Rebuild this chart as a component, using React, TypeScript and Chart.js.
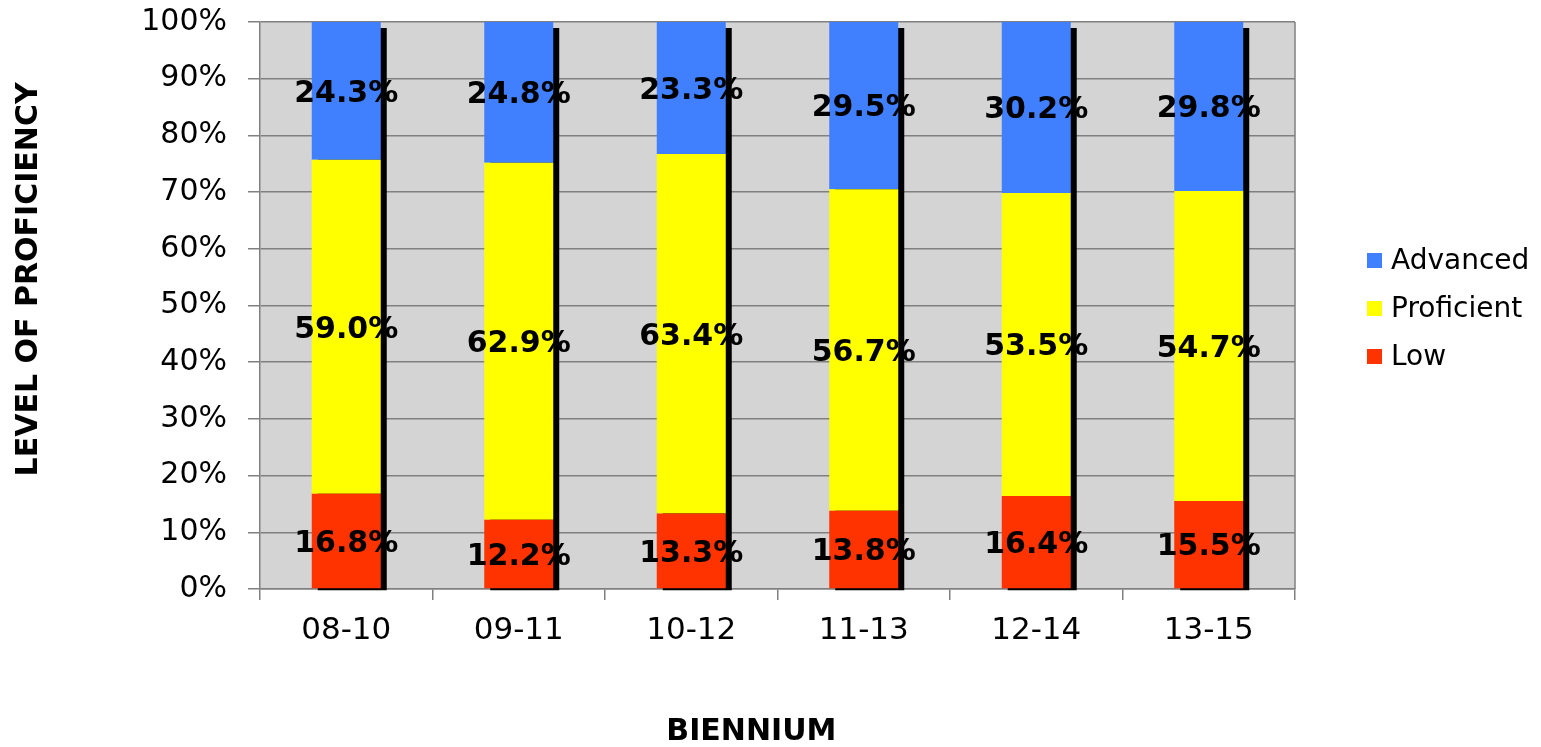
import React, { useEffect, useRef } from 'react';
import { Chart, registerables } from 'chart.js';

Chart.register(...registerables);

const categories = ['08-10', '09-11', '10-12', '11-13', '12-14', '13-15'];
const lowValues = [16.8, 12.2, 13.3, 13.8, 16.4, 15.5];
const proficientValues = [59.0, 62.9, 63.4, 56.7, 53.5, 54.7];
const advancedValues = [24.3, 24.8, 23.3, 29.5, 30.2, 29.8];
const seriesNames = ['Low', 'Proficient', 'Advanced'];
const seriesColors = ['#FF3300', '#FFFF00', '#4080FF'];
const xTitle = 'BIENNIUM';
const yTitle = 'LEVEL OF PROFICIENCY';

const FONT = "'DejaVu Sans', Verdana, sans-serif";

const bgPlugin = {
  id: 'plotBg',
  beforeDraw(chart: any) {
    const { ctx, chartArea: a } = chart;
    ctx.save();
    ctx.fillStyle = '#D4D4D4';
    ctx.fillRect(a.left, a.top, a.right - a.left, a.bottom - a.top);
    ctx.restore();
  },
  beforeDatasetsDraw(chart: any) {
    const { ctx, chartArea: a } = chart;
    ctx.save();
    ctx.strokeStyle = '#808080';
    ctx.lineWidth = 1.5;
    ctx.beginPath();
    ctx.moveTo(a.right, a.top);
    ctx.lineTo(a.right, a.bottom);
    ctx.stroke();
    const topMeta = chart.getDatasetMeta(2);
    const botMeta = chart.getDatasetMeta(0);
    ctx.fillStyle = '#000000';
    topMeta.data.forEach((el: any, i: number) => {
      const { x, y, width } = el.getProps(['x', 'y', 'width'], true);
      const base = botMeta.data[i].getProps(['base'], true).base;
      ctx.fillRect(x - width / 2 + 6, y + 6, width, base + 2 - (y + 6));
    });
    ctx.restore();
  },
};

const labelPlugin = {
  id: 'segLabels',
  afterDatasetsDraw(chart: any) {
    const { ctx } = chart;
    ctx.save();
    ctx.font = `bold 30px ${FONT}`;
    ctx.fillStyle = '#000000';
    ctx.textAlign = 'center';
    ctx.textBaseline = 'middle';
    chart.data.datasets.forEach((ds: any, di: number) => {
      const meta = chart.getDatasetMeta(di);
      meta.data.forEach((el: any, i: number) => {
        const { x, y, base } = el.getProps(['x', 'y', 'base'], true);
        ctx.fillText(ds.rawValues[i].toFixed(1) + '%', x, (y + base) / 2 + 3);
      });
    });
    ctx.restore();
  },
};

const legendPlugin = {
  id: 'sideLegend',
  afterDraw(chart: any) {
    const { ctx, chartArea: a } = chart;
    const ds = chart.data.datasets;
    const order = ds.map((_: any, i: number) => i).reverse();
    const spacing = 48;
    const mid = (a.top + a.bottom) / 2 + 3;
    const startY = mid - ((order.length - 1) * spacing) / 2;
    const x = a.right + 72;
    ctx.save();
    ctx.font = `28px ${FONT}`;
    ctx.textAlign = 'left';
    ctx.textBaseline = 'middle';
    order.forEach((di: number, k: number) => {
      const cy = startY + k * spacing;
      ctx.fillStyle = ds[di].backgroundColor;
      ctx.fillRect(x, cy - 7.5, 15, 15);
      ctx.fillStyle = '#000000';
      ctx.fillText(ds[di].label, x + 24, cy + 1);
    });
    ctx.restore();
  },
};

export default function App() {
  const canvasRef = useRef<HTMLCanvasElement | null>(null);

  useEffect(() => {
    if (!canvasRef.current) return;
    const seriesRaw = [lowValues, proficientValues, advancedValues];
    const totals = categories.map((_, i) => seriesRaw.reduce((s, arr) => s + arr[i], 0));
    const datasets = seriesRaw.map((arr, si) => ({
      label: seriesNames[si],
      data: arr.map((v, i) => (v / totals[i]) * 100),
      rawValues: arr,
      backgroundColor: seriesColors[si],
      borderWidth: 0,
      barPercentage: 0.4,
      categoryPercentage: 1.0,
    }));

    const chart = new Chart(canvasRef.current, {
      type: 'bar',
      data: { labels: categories, datasets: datasets as any },
      plugins: [bgPlugin, labelPlugin, legendPlugin],
      options: {
        animation: false,
        responsive: true,
        maintainAspectRatio: false,
        layout: { padding: { top: 22, right: 246, left: 0, bottom: 0 } },
        plugins: {
          legend: { display: false },
          tooltip: { enabled: false },
        },
        scales: {
          x: {
            stacked: true,
            grid: {
              offset: true,
              drawOnChartArea: false,
              drawTicks: true,
              tickLength: 11,
              color: '#808080',
              lineWidth: 1.5,
            },
            border: { color: '#808080', width: 1.5 },
            ticks: {
              color: '#000000',
              font: { family: FONT, size: 31 },
              padding: 12,
              maxRotation: 0,
            },
            title: {
              display: true,
              text: xTitle + '     ',
              color: '#000000',
              font: { family: FONT, size: 30, weight: 'bold', lineHeight: 1 },
              padding: { top: 0, bottom: 0 },
            },
            afterFit(scale: any) {
              scale.height = 158;
              scale.paddingLeft = 0;
              scale.paddingRight = 0;
            },
          },
          y: {
            stacked: true,
            min: 0,
            max: 100,
            ticks: {
              stepSize: 10,
              color: '#000000',
              font: { family: FONT, size: 30 },
              padding: 21,
              callback: (v: any) => v + '%',
            },
            grid: {
              color: '#808080',
              lineWidth: 1.5,
              tickLength: 12,
              drawTicks: true,
            },
            border: { color: '#808080', width: 1.5 },
            title: {
              display: true,
              text: '     ' + yTitle,
              color: '#000000',
              font: { family: FONT, size: 30, weight: 'bold', lineHeight: 1 },
              padding: { top: 14, bottom: 0 },
            },
            afterFit(scale: any) {
              scale.width = 260;
              scale.paddingTop = 0;
              scale.paddingBottom = 0;
            },
          },
        },
      },
    });
    return () => chart.destroy();
  }, []);

  return (
    <div style={{ position: 'fixed', left: 0, top: 0, width: 1541, height: 747, background: '#ffffff' }}>
      <canvas ref={canvasRef} />
    </div>
  );
}
